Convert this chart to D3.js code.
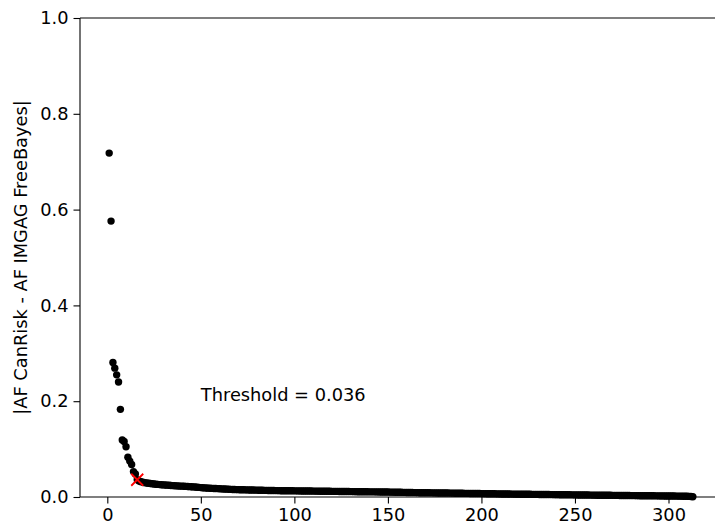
<!DOCTYPE html>
<html>
<head>
<meta charset="utf-8">
<script src="https://cdn.jsdelivr.net/npm/d3@7"></script>
<style>
  body { margin: 0; background: #fff; }
  svg { display: block; font-family: "DejaVu Sans", sans-serif; }
</style>
</head>
<body>
<div id="chart"></div>
<script>
// sorted |AF CanRisk - AF IMGAG FreeBayes| per variant, rank 1..313
const headValues = [0.718, 0.576, 0.281, 0.269, 0.255, 0.240, 0.183, 0.119,
    0.116, 0.105, 0.083, 0.075, 0.068, 0.053, 0.048, 0.036];

const tailValues = [
    0.0335, 0.0320, 0.0308, 0.0300, 0.0293, 0.0287, 0.0281, 0.0276, 0.0271, 0.0267,
    0.0263, 0.0259, 0.0256, 0.0253, 0.0250, 0.0247, 0.0244, 0.0241, 0.0238, 0.0236,
    0.0233, 0.0231, 0.0228, 0.0226, 0.0223, 0.0221, 0.0218, 0.0216, 0.0213, 0.0211,
    0.0208, 0.0205, 0.0201, 0.0196, 0.0193, 0.0190, 0.0188, 0.0185, 0.0183, 0.0181,
    0.0179, 0.0177, 0.0175, 0.0172, 0.0170, 0.0168, 0.0166, 0.0164, 0.0162, 0.0160,
    0.0158, 0.0157, 0.0155, 0.0153, 0.0152, 0.0151, 0.0150, 0.0149, 0.0148, 0.0147,
    0.0146, 0.0145, 0.0144, 0.0143, 0.0142, 0.0141, 0.0140, 0.0139, 0.0138, 0.0137,
    0.0136, 0.0136, 0.0135, 0.0134, 0.0134, 0.0133, 0.0132, 0.0132, 0.0131, 0.0131,
    0.0130, 0.0129, 0.0129, 0.0128, 0.0128, 0.0127, 0.0127, 0.0126, 0.0126, 0.0125,
    0.0125, 0.0124, 0.0124, 0.0123, 0.0123, 0.0122, 0.0122, 0.0121, 0.0121, 0.0120,
    0.0120, 0.0119, 0.0119, 0.0118, 0.0118, 0.0117, 0.0117, 0.0116, 0.0116, 0.0115,
    0.0115, 0.0114, 0.0114, 0.0113, 0.0113, 0.0112, 0.0112, 0.0111, 0.0111, 0.0110,
    0.0110, 0.0109, 0.0109, 0.0108, 0.0108, 0.0107, 0.0107, 0.0106, 0.0106, 0.0105,
    0.0105, 0.0104, 0.0104, 0.0103, 0.0102, 0.0101, 0.0101, 0.0100, 0.0099, 0.0098,
    0.0098, 0.0097, 0.0096, 0.0095, 0.0095, 0.0094, 0.0093, 0.0092, 0.0092, 0.0091,
    0.0090, 0.0090, 0.0089, 0.0089, 0.0088, 0.0088, 0.0087, 0.0087, 0.0086, 0.0086,
    0.0085, 0.0085, 0.0084, 0.0083, 0.0083, 0.0082, 0.0081, 0.0081, 0.0080, 0.0079,
    0.0079, 0.0078, 0.0077, 0.0077, 0.0076, 0.0076, 0.0075, 0.0074, 0.0074, 0.0073,
    0.0073, 0.0072, 0.0072, 0.0071, 0.0070, 0.0070, 0.0069, 0.0068, 0.0068, 0.0067,
    0.0067, 0.0066, 0.0065, 0.0065, 0.0064, 0.0064, 0.0063, 0.0062, 0.0062, 0.0061,
    0.0061, 0.0060, 0.0060, 0.0059, 0.0058, 0.0058, 0.0057, 0.0057, 0.0056, 0.0056,
    0.0055, 0.0055, 0.0054, 0.0054, 0.0053, 0.0053, 0.0052, 0.0052, 0.0051, 0.0051,
    0.0050, 0.0050, 0.0049, 0.0049, 0.0049, 0.0048, 0.0048, 0.0047, 0.0047, 0.0046,
    0.0046, 0.0045, 0.0045, 0.0044, 0.0044, 0.0043, 0.0043, 0.0042, 0.0042, 0.0041,
    0.0041, 0.0040, 0.0040, 0.0039, 0.0039, 0.0038, 0.0038, 0.0037, 0.0037, 0.0036,
    0.0036, 0.0035, 0.0035, 0.0034, 0.0034, 0.0033, 0.0033, 0.0032, 0.0032, 0.0031,
    0.0031, 0.0030, 0.0030, 0.0029, 0.0029, 0.0029, 0.0028, 0.0028, 0.0027, 0.0027,
    0.0027, 0.0026, 0.0026, 0.0025, 0.0025, 0.0025, 0.0024, 0.0024, 0.0023, 0.0023,
    0.0023, 0.0022, 0.0022, 0.0021, 0.0021, 0.0020, 0.0020, 0.0019, 0.0019, 0.0018,
    0.0018, 0.0017, 0.0016, 0.0015, 0.0013, 0.0010, 0.0006
];

const xTicks = [0, 50, 100, 150, 200, 250, 300];
const yTicks = [0.0, 0.2, 0.4, 0.6, 0.8, 1.0];

const thresholdRank = 16;
const thresholdValue = 0.036;
const thresholdLabel = "Threshold = 0.036";
const yLabel = "|AF CanRisk - AF IMGAG FreeBayes|";

const values = headValues.concat(tailValues);
const points = values.map((v, i) => ({ rank: i + 1, value: v }));

const width = 715, height = 529;
const margin = { top: 18, right: -7, bottom: 32, left: 80 };

const svg = d3.select("#chart")
    .append("svg")
    .attr("width", width)
    .attr("height", height);

// matplotlib style 5% padding on x
const n = points.length;
const pad = (n - 1) * 0.05;
const x = d3.scaleLinear()
    .domain([1 - pad, n + pad])
    .range([margin.left, width - margin.right]);

const y = d3.scaleLinear()
    .domain([0, 1])
    .range([height - margin.bottom, margin.top]);

const fontSize = 17.8;

// x axis
const xAxis = svg.append("g")
    .attr("transform", `translate(0,${height - margin.bottom})`)
    .call(d3.axisBottom(x).tickValues(xTicks).tickSize(6.5).tickPadding(4.5).tickFormat(d3.format("d")));

// y axis
const yAxis = svg.append("g")
    .attr("transform", `translate(${margin.left},0)`)
    .call(d3.axisLeft(y).tickValues(yTicks).tickSize(6.5).tickPadding(5).tickFormat(d3.format(".1f")));

[xAxis, yAxis].forEach(g => {
    g.select(".domain").remove();
    g.selectAll(".tick line").attr("stroke", "#000").attr("stroke-width", 1.1);
    g.selectAll(".tick text")
        .attr("fill", "#000")
        .style("font-size", fontSize + "px")
        .style("font-family", "DejaVu Sans, sans-serif");
});

// spines: left, bottom, top (right one falls outside the picture)
const spine = svg.append("g")
    .attr("stroke", "#000")
    .attr("stroke-width", 1.1)
    .attr("fill", "none");
spine.append("line")
    .attr("x1", margin.left).attr("x2", margin.left)
    .attr("y1", y(0)).attr("y2", y(1));
spine.append("line")
    .attr("x1", margin.left).attr("x2", width)
    .attr("y1", y(0)).attr("y2", y(0));
spine.append("line")
    .attr("x1", margin.left).attr("x2", width)
    .attr("y1", y(1)).attr("y2", y(1));

// points
svg.append("g")
    .selectAll("circle")
    .data(points)
    .join("circle")
    .attr("cx", d => x(d.rank))
    .attr("cy", d => y(d.value))
    .attr("r", 3.7)
    .attr("fill", "#000");

// threshold marker
const mx = x(thresholdRank), my = y(thresholdValue), ms = 6;
svg.append("path")
    .attr("d", `M${mx - ms},${my - ms}L${mx + ms},${my + ms}M${mx - ms},${my + ms}L${mx + ms},${my - ms}`)
    .attr("stroke", "#ff0000")
    .attr("stroke-width", 1.8)
    .attr("fill", "none");

svg.append("text")
    .attr("x", x(50))
    .attr("y", y(0.2))
    .style("font-size", fontSize + "px")
    .attr("fill", "#000")
    .text(thresholdLabel);

// y label
svg.append("text")
    .attr("transform", `translate(27,${(y(0) + y(1)) / 2}) rotate(-90)`)
    .attr("text-anchor", "middle")
    .style("font-size", fontSize + "px")
    .attr("fill", "#000")
    .text(yLabel);
</script>
</body>
</html>
